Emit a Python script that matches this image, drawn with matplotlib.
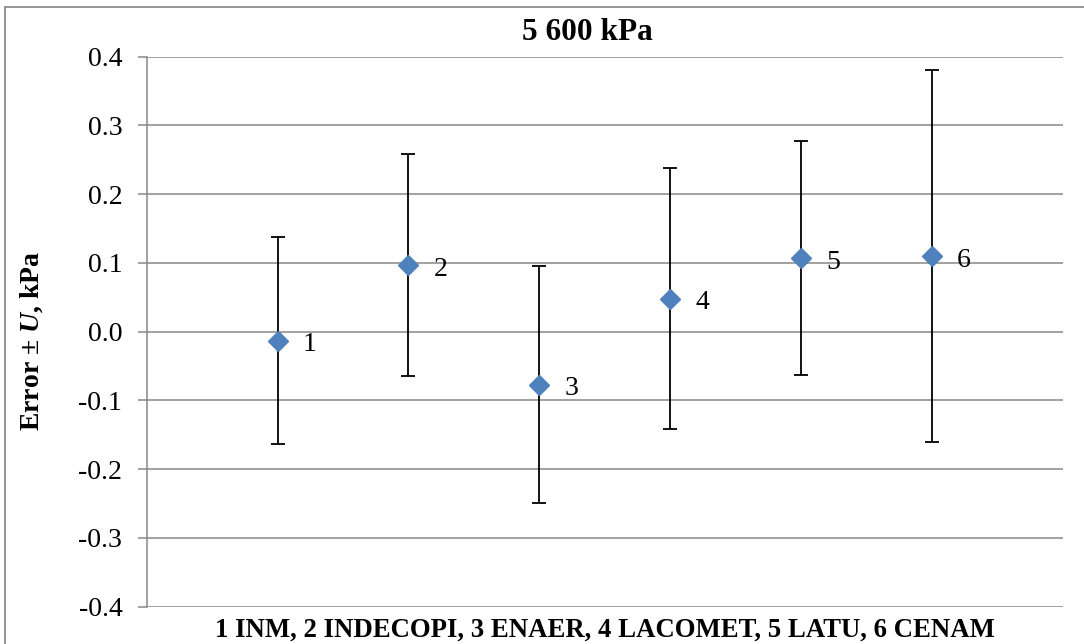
import matplotlib
matplotlib.use("Agg")
import matplotlib.pyplot as plt
from matplotlib.patches import Rectangle

# Data
labs = ["1", "2", "3", "4", "5", "6"]
x_pos = [1, 2, 3, 4, 5, 6]
errors = [-0.013, 0.097, -0.077, 0.048, 0.107, 0.110]
U = [0.150, 0.162, 0.172, 0.190, 0.170, 0.270]
yticks = [-0.4, -0.3, -0.2, -0.1, 0.0, 0.1, 0.2, 0.3, 0.4]

plt.rcParams['font.family'] = ['Liberation Serif', 'DejaVu Serif']
plt.rcParams['mathtext.fontset'] = 'custom'
plt.rcParams['mathtext.rm'] = 'Liberation Serif'
plt.rcParams['mathtext.it'] = 'Liberation Serif:italic'
plt.rcParams['mathtext.bf'] = 'Liberation Serif:bold'
plt.rcParams['mathtext.bfit'] = 'Liberation Serif:italic:bold'

fig = plt.figure(figsize=(10.84, 6.44), dpi=100)
ax = fig.add_axes([0.1353, 0.0579, 0.8453, 0.8541])

grid_c = '#878787'
for yt in yticks:
    ax.axhline(yt, color=grid_c, lw=1.1, zorder=0)

ax.errorbar(x_pos, errors, yerr=U, fmt='none', ecolor='black', elinewidth=1.3,
            capsize=4.8, capthick=1.3, zorder=2)
ax.plot(x_pos, errors, linestyle='none', marker='D', markersize=10.5,
        color='#4F81BD', markeredgecolor='#4F81BD', zorder=3)
for xi, yi, lb in zip(x_pos, errors, labs):
    ax.annotate(lb, (xi, yi), xytext=(23, -3), textcoords='offset points',
                ha='center', va='center', fontsize=20)

ax.set_xlim(0, 7)
ax.set_ylim(-0.4, 0.4)
ax.set_yticks(yticks)
ax.set_yticklabels([f"{v:.1f}" for v in yticks], fontsize=20)
ax.set_xticks([])
for s in ['top', 'right', 'bottom']:
    ax.spines[s].set_visible(False)
ax.spines['left'].set_color(grid_c)
ax.spines['left'].set_linewidth(1.1)
ax.tick_params(axis='y', direction='out', length=6.5, width=1.1, color=grid_c, pad=11)

fig.text(0.5415, 0.949, "5 600 kPa", ha='center', va='center', fontsize=22.5, fontweight='bold')
fig.text(0.558, 0.022, "1 INM, 2 INDECOPI, 3 ENAER, 4 LACOMET, 5 LATU, 6 CENAM",
         ha='center', va='center', fontsize=19.3, fontweight='bold')
fig.text(0.029, 0.47, r"Error ± $\mathbfit{U}$, kPa", ha='center', va='center',
         rotation=90, fontsize=20, fontweight='bold')

fig.patches.append(Rectangle((5 / 1084, -0.1), 1.2, 1 - 7 / 644 + 0.1, transform=fig.transFigure,
                             fill=False, edgecolor='#8c8c8c', lw=1.3))

fig.savefig("out.png", dpi=100)
